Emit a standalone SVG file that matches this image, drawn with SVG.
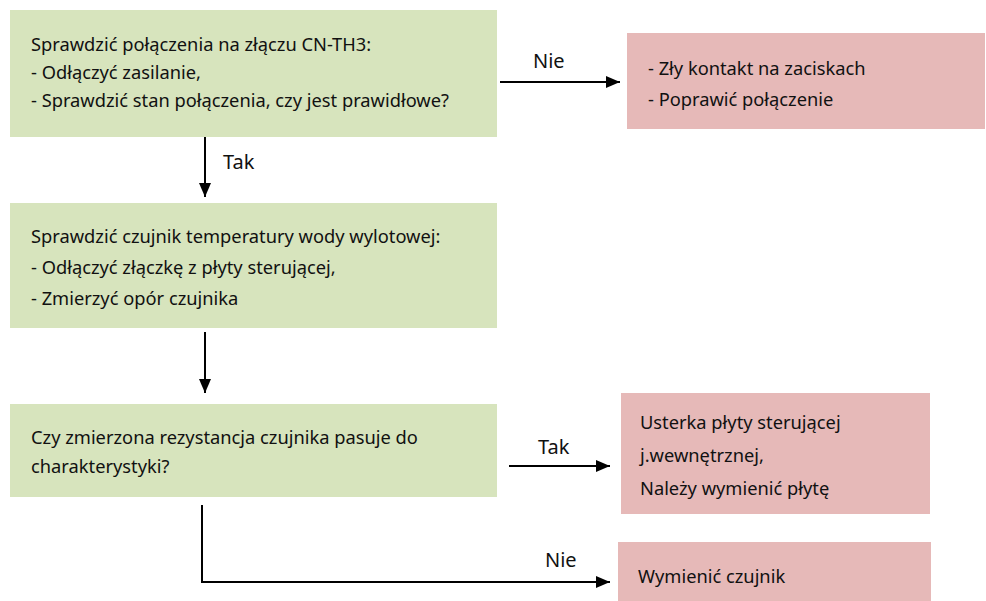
<svg xmlns="http://www.w3.org/2000/svg" width="986" height="601" viewBox="0 0 986 601">
<defs>
<style>
.g{fill:#D7E4BD}
.p{fill:#E6B9B8}
text{font-family:"Noto Sans","Liberation Sans",sans-serif;font-size:18.3px;fill:#111}
text.l{font-size:20px}
.c{stroke:#000;stroke-width:2;fill:none}
</style>
<marker id="ah" markerWidth="14" markerHeight="12" refX="14" refY="6" orient="auto" markerUnits="userSpaceOnUse">
<path d="M0,0 L14,6 L0,12 Z" fill="#000"/>
</marker>
</defs>
<rect width="986" height="601" fill="#fff"/>
<g id="n1">
<rect class="g" x="10" y="10" width="487" height="127"/>
<text x="31" y="51">Sprawdzić połączenia na złączu CN-TH3:</text>
<text x="31" y="79">- Odłączyć zasilanie,</text>
<text x="31" y="107">- Sprawdzić stan połączenia, czy jest prawidłowe?</text>
</g>
<g id="n2">
<rect class="p" x="627" y="33" width="358" height="96"/>
<text x="648" y="75">- Zły kontakt na zaciskach</text>
<text x="648" y="106">- Poprawić połączenie</text>
</g>
<g id="n3">
<rect class="g" x="10" y="203" width="487" height="125"/>
<text x="31" y="243">Sprawdzić czujnik temperatury wody wylotowej:</text>
<text x="31" y="274">- Odłączyć złączkę z płyty sterującej,</text>
<text x="31" y="305">- Zmierzyć opór czujnika</text>
</g>
<g id="n4">
<rect class="g" x="10" y="404" width="487" height="93"/>
<text x="31" y="444">Czy zmierzona rezystancja czujnika pasuje do</text>
<text x="31" y="473">charakterystyki?</text>
</g>
<g id="n5">
<rect class="p" x="621" y="393" width="309" height="121"/>
<text x="640" y="429">Usterka płyty sterującej</text>
<text x="640" y="462">j.wewnętrznej,</text>
<text x="640" y="495">Należy wymienić płytę</text>
</g>
<g id="n6">
<rect class="p" x="618" y="542" width="313" height="59"/>
<text x="638" y="583">Wymienić czujnik</text>
</g>
<g id="connectors">
<line class="c" x1="500" y1="82" x2="620" y2="82" marker-end="url(#ah)"/>
<text class="l" x="533" y="68">Nie</text>
<line class="c" x1="205" y1="137" x2="205" y2="197" marker-end="url(#ah)"/>
<text class="l" x="223" y="169">Tak</text>
<line class="c" x1="205" y1="332" x2="205" y2="393" marker-end="url(#ah)"/>
<line class="c" x1="509" y1="466" x2="610" y2="466" marker-end="url(#ah)"/>
<text class="l" x="538" y="454">Tak</text>
<polyline class="c" points="202,505 202,582 610,582" marker-end="url(#ah)"/>
<text class="l" x="545" y="567">Nie</text>
</g>
</svg>
